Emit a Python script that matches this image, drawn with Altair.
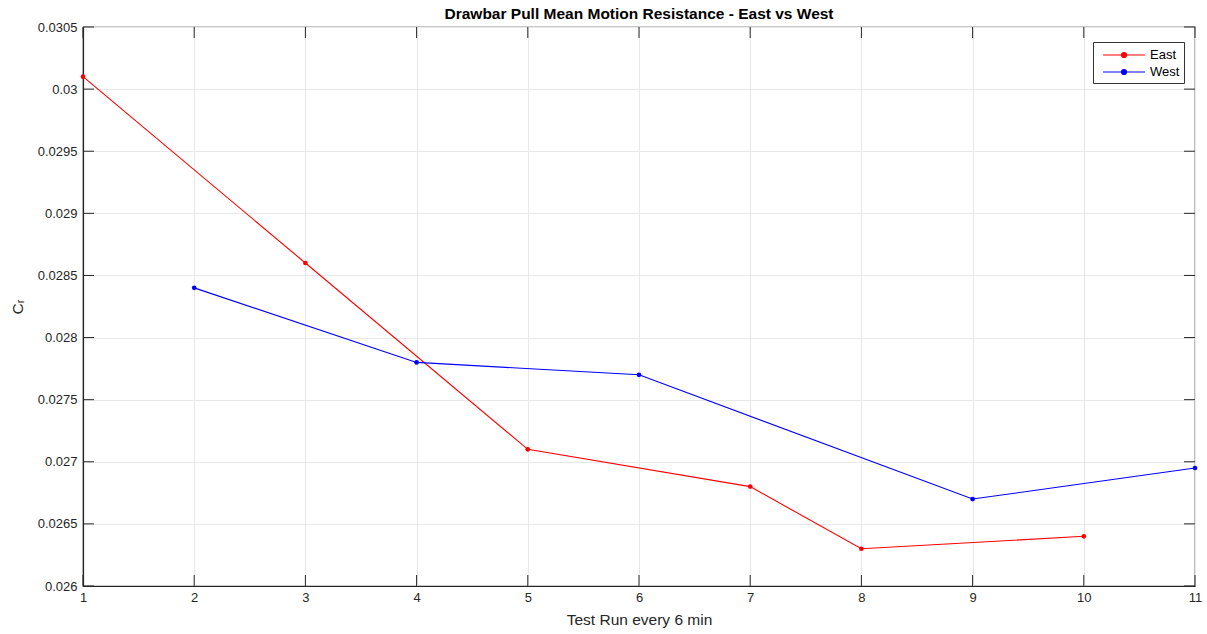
import altair as alt
import pandas as pd

east_x = [1, 3, 5, 7, 8, 10]
east_y = [0.0301, 0.0286, 0.0271, 0.0268, 0.0263, 0.0264]
west_x = [2, 4, 6, 9, 11]
west_y = [0.0284, 0.0278, 0.0277, 0.0267, 0.02695]
x_ticks = list(range(1, 12))
y_ticks = [0.026, 0.0265, 0.027, 0.0275, 0.028, 0.0285, 0.029, 0.0295, 0.03, 0.0305]

df = pd.concat([
    pd.DataFrame({"run": east_x, "cr": east_y, "series": "East"}),
    pd.DataFrame({"run": west_x, "cr": west_y, "series": "West"}),
])

W, H = 1112, 559
FONT = "Liberation Sans"
AX = "#262626"

xs = alt.Scale(domain=[1, 11], nice=False, zero=False)
ys = alt.Scale(domain=[0.026, 0.0305], nice=False, zero=False)
cs = alt.Scale(domain=["East", "West"], range=["#ff0000", "#0000ff"])

sym = ("M-0.375,0L4.875,0M2.56,0A0.31,0.31 0 1,1 1.94,0A0.31,0.31 0 1,1 2.56,0")

base = alt.Chart(df)

line = base.mark_line(strokeWidth=1.1).encode(
    x=alt.X("run:Q", scale=xs, title="Test Run every 6 min",
            axis=alt.Axis(values=x_ticks, format="d", grid=True, tickSize=0,
                          labelFlush=False, labelPadding=5, titlePadding=8)),
    y=alt.Y("cr:Q", scale=ys, title="Cᵣ",
            axis=alt.Axis(values=y_ticks, format=".4~f", grid=True, tickSize=0,
                          labelFlush=False, labelPadding=6, titlePadding=12)),
    color=alt.Color("series:N", scale=cs, title=None,
                    legend=alt.Legend(orient="none", legendX=1010, legendY=15,
                                      symbolType=sym, symbolSize=256,
                                      symbolStrokeWidth=1.2, padding=4,
                                      rowPadding=1, labelOffset=35,
                                      strokeColor="#333333", fillColor="white",
                                      labelFontSize=13, labelFont=FONT,
                                      labelColor="#000000")),
)
pts = base.mark_point(filled=True, size=22, opacity=1).encode(
    x=alt.X("run:Q", scale=xs), y=alt.Y("cr:Q", scale=ys),
    color=alt.Color("series:N", scale=cs, title=None),
)

xt = pd.DataFrame({"v": x_ticks})
yt = pd.DataFrame({"v": y_ticks})
tick_col = AX
xb = alt.Chart(xt).mark_rule(color=tick_col).encode(
    x=alt.X("v:Q", scale=xs), y=alt.value(H), y2=alt.value(H - 11))
xtop = alt.Chart(xt).mark_rule(color=tick_col).encode(
    x=alt.X("v:Q", scale=xs), y=alt.value(0), y2=alt.value(11))
yl = alt.Chart(yt).mark_rule(color=tick_col).encode(
    y=alt.Y("v:Q", scale=ys), x=alt.value(0), x2=alt.value(11))
yr = alt.Chart(yt).mark_rule(color=tick_col).encode(
    y=alt.Y("v:Q", scale=ys), x=alt.value(W), x2=alt.value(W - 11))

chart = alt.layer(line, pts, xb, xtop, yl, yr).properties(
    width=W, height=H,
    background="white",
    title=alt.TitleParams("Drawbar Pull Mean Motion Resistance - East vs West",
                          font=FONT, fontSize=15.5, fontWeight="bold",
                          color="#000000", offset=6, dy=7),
    autosize=alt.AutoSizeParams(type="none"),
    padding={"left": 83, "top": 27, "right": 12, "bottom": 48},
).configure_view(stroke=AX, strokeWidth=1.2).configure_axis(
    labelFont=FONT, labelFontSize=13, labelColor=AX,
    titleFont=FONT, titleFontSize=15.5, titleColor=AX, titleFontWeight="normal",
    domainColor=AX, domainWidth=1.2, gridColor="#e8e8e8", gridWidth=1,
)

chart.save("out.html", embed_options={"renderer": "svg", "actions": False})
